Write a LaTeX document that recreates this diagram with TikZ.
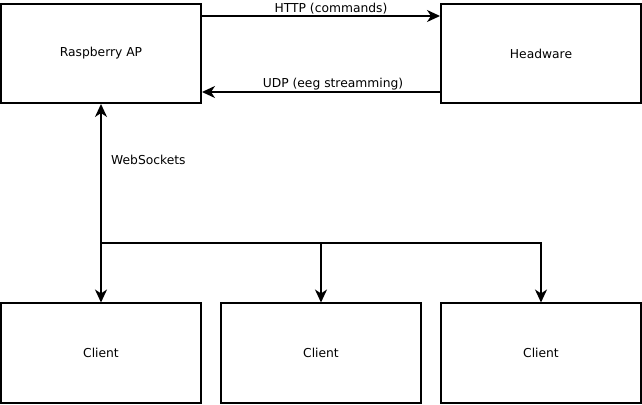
\documentclass[tikz,border=0pt]{standalone}
\usepackage{fontspec}
\setmainfont{DejaVu Sans}
\usetikzlibrary{arrows.meta}
\begin{document}
\begin{tikzpicture}[x=1pt,y=1pt,
  box/.style={draw,line width=2pt,minimum width=200pt,minimum height=99pt,inner sep=0pt,font=\fontsize{12.3}{14}\selectfont},
  conn/.style={line width=2pt,arrows={-Stealth[length=13pt,width=12pt,inset=4pt]}},
  biconn/.style={line width=2pt,arrows={Stealth[length=13pt,width=12pt,inset=4pt]-Stealth[length=13pt,width=12pt,inset=4pt]}},
  lbl/.style={font=\fontsize{12.3}{14}\selectfont,inner sep=0pt}]
\useasboundingbox (0,0) rectangle (642,404);
\node[box] (R) at (101,350.5) {Raspberry AP};
\node[box] (H) at (541,350.5) {Headware};
\node[box] (C1) at (101,51) {Client};
\node[box] (C2) at (321,51) {Client};
\node[box] (C3) at (541,51) {Client};
\draw[conn] (R.east |- 0,388) -- (H.west |- 0,388);
\draw[conn] (H.west |- 0,312) -- (R.east |- 0,312);
\node[lbl] (http) at (331,395.5) {HTTP (commands)};
\node[lbl] (udp) at (333,320) {UDP (eeg streamming)};
\node[lbl,anchor=west] (ws) at (111,244.5) {WebSockets};
\draw[biconn] (R.south) -- (C1.north);
\coordinate (j) at (R.south |- 0,161);
\draw[conn] (j) -| (C2.north);
\draw[conn] (j) -| (C3.north);
\end{tikzpicture}
\end{document}
